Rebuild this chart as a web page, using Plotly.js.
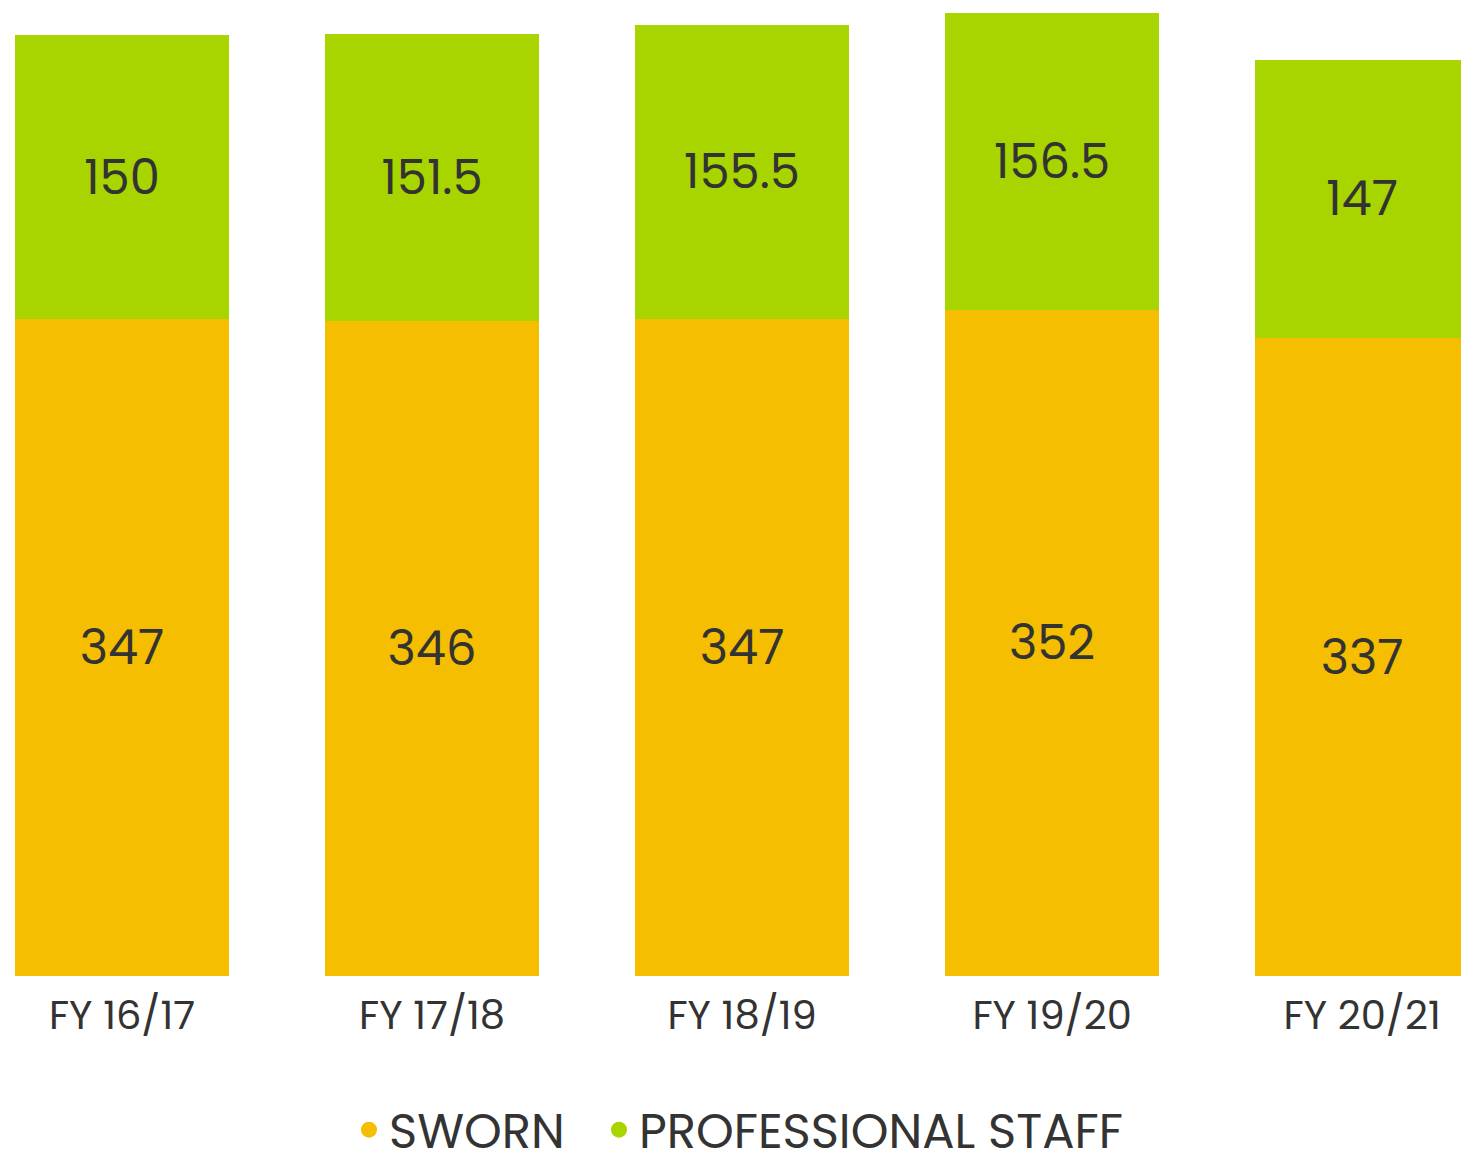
<!DOCTYPE html>
<html>
<head>
<meta charset="utf-8">
<script src="https://cdn.plot.ly/plotly-3.0.1.min.js"></script>
<style>html,body{margin:0;padding:0;background:#fff;}#chart{width:1461px;height:1168px;}</style>
</head>
<body>
<div id="chart"></div>
<script>
const categories = ["FY 16/17", "FY 17/18", "FY 18/19", "FY 19/20", "FY 20/21"];
const sworn = [347, 346, 347, 352, 337];
const professional = [150, 151.5, 155.5, 156.5, 147];
const seriesNames = ["SWORN", "PROFESSIONAL STAFF"];
const colors = ["#F5BE00", "#A8D500"];

const FONT = "Poppins, Lato, 'Open Sans', sans-serif";
const TXT = "#333333";

const traces = [
  {
    type: "bar", x: categories, y: sworn, name: seriesNames[0],
    marker: {color: colors[0]}, width: 0.69,
    text: sworn.map(String), textposition: "inside", insidetextanchor: "middle",
    textfont: {family: FONT, size: 48, color: TXT}, showlegend: false,
    hoverinfo: "x+y"
  },
  {
    type: "bar", x: categories, y: professional, name: seriesNames[1],
    marker: {color: colors[1]}, width: 0.69,
    text: professional.map(String), textposition: "inside", insidetextanchor: "middle",
    textfont: {family: FONT, size: 48, color: TXT}, showlegend: false,
    hoverinfo: "x+y"
  },
  {
    type: "scatter", mode: "markers", x: [null], y: [null], name: seriesNames[0],
    marker: {color: colors[0], size: 22, symbol: "circle"}, showlegend: true, legend: "legend"
  },
  {
    type: "scatter", mode: "markers", x: [null], y: [null], name: seriesNames[1],
    marker: {color: colors[1], size: 22, symbol: "circle"}, showlegend: true, legend: "legend2"
  }
];

const legendBase = {
  orientation: "h", yanchor: "bottom", y: 0,
  font: {family: FONT, size: 48, color: TXT}, bgcolor: "rgba(0,0,0,0)"
};

const layout = {
  width: 1461, height: 1168,
  margin: {l: 0, r: 0, t: 0, b: 0, pad: 0},
  paper_bgcolor: "#ffffff", plot_bgcolor: "#ffffff",
  barmode: "stack",
  font: {family: FONT, color: TXT},
  xaxis: {
    type: "category", range: [-0.3935, 4.319],
    showgrid: false, zeroline: false, showline: false, ticks: "",
    ticklabelstandoff: 12,
    tickfont: {family: FONT, size: 40, color: TXT}, fixedrange: true
  },
  yaxis: {
    domain: [192 / 1168, 1],
    range: [0, 515.6], visible: false, showgrid: false, zeroline: false, fixedrange: true
  },
  showlegend: true,
  legend: Object.assign({}, legendBase, {x: 349 / 1461, xanchor: "left"}),
  legend2: Object.assign({}, legendBase, {x: 599 / 1461, xanchor: "left"})
};

Plotly.newPlot("chart", traces, layout, {displayModeBar: false});
</script>
</body>
</html>
